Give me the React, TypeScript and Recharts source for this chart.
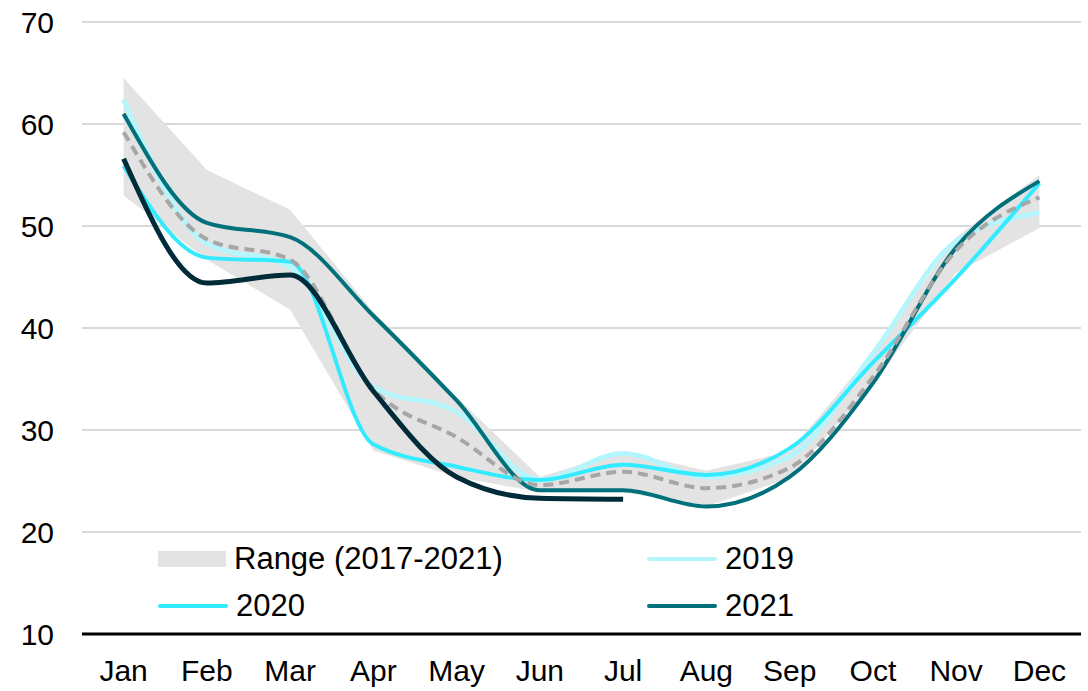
import React from 'react';
import { ComposedChart, Area, Line, XAxis, YAxis, CartesianGrid } from 'recharts';

const months = ['Jan', 'Feb', 'Mar', 'Apr', 'May', 'Jun', 'Jul', 'Aug', 'Sep', 'Oct', 'Nov', 'Dec'];
const rangeLow = [53.0, 46.7, 41.8, 28.0, 25.4, 23.9, 23.9, 22.5, 25.3, 34.5, 45.4, 49.8];
const rangeHigh = [64.5, 55.5, 51.6, 41.6, 33.2, 25.4, 27.9, 26.0, 27.9, 37.6, 48.9, 55.0];
const y2019 = [62.4, 48.3, 46.0, 34.2, 31.8, 25.1, 27.7, 25.4, 27.4, 37.5, 48.5, 51.3];
const y2020 = [55.9, 46.9, 46.5, 28.6, 26.4, 25.1, 26.6, 25.6, 28.2, 36.6, 44.9, 54.2];
const y2021 = [61.0, 50.3, 48.9, 41.2, 32.9, 24.1, 24.1, 22.5, 25.4, 34.6, 47.9, 54.4];
const avg = [59.2, 48.7, 46.7, 34.0, 29.3, 24.6, 25.9, 24.3, 26.3, 35.2, 47.6, 52.8];
const y2022 = [56.6, 44.4, 45.2, 33.8, 25.4, 23.3, 23.2];
const yTicks = [10, 20, 30, 40, 50, 60, 70];

const data = months.map((m, i) => ({
  month: m,
  low: rangeLow[i],
  high: rangeHigh[i],
  y2019: y2019[i],
  y2020: y2020[i],
  y2021: y2021[i],
  avg: avg[i],
  y2022: i < y2022.length ? y2022[i] : null,
}));

const FONT = '"Liberation Sans", Arial, sans-serif';

const legendItems = [
  { name: 'Range (2017-2021)', color: '#e3e3e3', box: true },
  { name: '2019', color: '#b5f6fd' },
  { name: '2020', color: '#33ebff' },
  { name: '2021', color: '#00707a' },
];

export default function App() {
  return (
    <div style={{ position: 'absolute', left: 0, top: 0, width: 1088, height: 691, background: '#fff', fontFamily: FONT }}>
      <ComposedChart width={1088} height={691} data={data} margin={{ top: 22, right: 7, left: 0, bottom: 0 }}>
        <CartesianGrid vertical={false} stroke="#d9d9d9" strokeWidth={2} />
        <XAxis
          dataKey="month"
          height={57}
          padding={{ left: 41.6, right: 41.6 }}
          tickSize={0}
          tickMargin={26}
          axisLine={{ stroke: '#000', strokeWidth: 3 }}
          tick={{ fontSize: 30, fill: '#000', fontFamily: FONT }}
        />
        <YAxis
          width={82}
          domain={[10, 70]}
          ticks={yTicks}
          tickSize={0}
          tickMargin={28}
          axisLine={false}
          tick={{ fontSize: 30, fill: '#000', fontFamily: FONT }}
        />
        <Area
          type="linear"
          dataKey={(d: any) => [d.low, d.high]}
          fill="#e3e3e3"
          fillOpacity={1}
          stroke="none"
          isAnimationActive={false}
        />
        <Line type="monotone" dataKey="y2019" stroke="#b5f6fd" strokeWidth={5} dot={false} isAnimationActive={false} />
        <Line type="monotone" dataKey="y2020" stroke="#33ebff" strokeWidth={4} dot={false} isAnimationActive={false} />
        <Line type="monotone" dataKey="y2021" stroke="#00707a" strokeWidth={4} dot={false} isAnimationActive={false} />
        <Line type="monotone" dataKey="avg" stroke="#a6a6a6" strokeWidth={4} strokeDasharray="10 6" dot={false} isAnimationActive={false} />
        <Line type="monotone" dataKey="y2022" stroke="#002b38" strokeWidth={5} dot={false} isAnimationActive={false} />
      </ComposedChart>
      <div
        style={{
          position: 'absolute',
          left: 158,
          top: 535,
          display: 'grid',
          gridTemplateColumns: '489px 300px',
          rowGap: 0,
          fontSize: 31,
          color: '#000',
        }}
      >
        {legendItems.map((it) => (
          <div key={it.name} style={{ display: 'flex', alignItems: 'center', height: 47 }}>
            {it.box ? (
              <div style={{ width: 68, height: 16, background: it.color }} />
            ) : (
              <div style={{ width: 70, height: 4, borderRadius: 2, background: it.color }} />
            )}
            <span style={{ marginLeft: 8 }}>{it.name}</span>
          </div>
        ))}
      </div>
    </div>
  );
}
